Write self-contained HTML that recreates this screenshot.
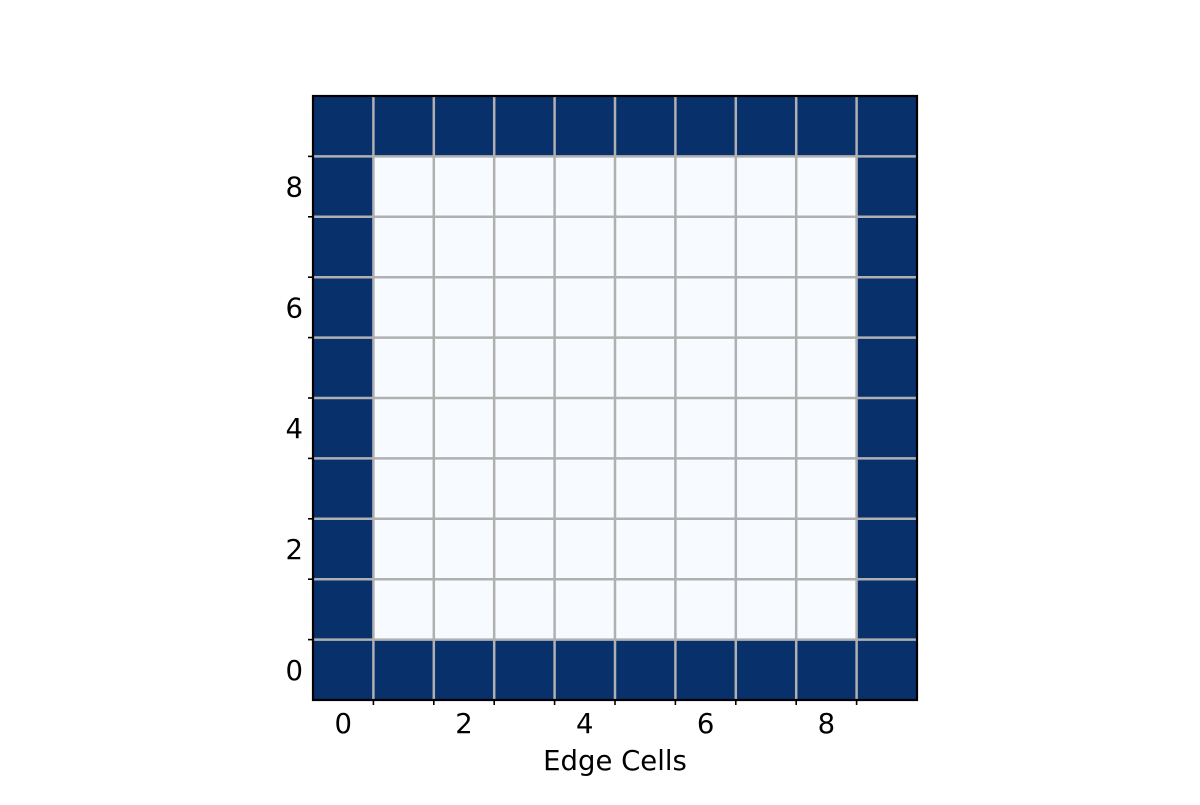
<!DOCTYPE html>
<html><head><meta charset="utf-8"><style>
body{margin:0;background:#fff;}
svg text{font-family:"DejaVu Sans","Liberation Sans",sans-serif;font-size:27.5px;fill:#000;}
</style></head><body>
<svg id="chart" width="1200" height="800" xmlns="http://www.w3.org/2000/svg"></svg>
<script>
const gridValues = [
[1,1,1,1,1,1,1,1,1,1],
[1,0,0,0,0,0,0,0,0,1],
[1,0,0,0,0,0,0,0,0,1],
[1,0,0,0,0,0,0,0,0,1],
[1,0,0,0,0,0,0,0,0,1],
[1,0,0,0,0,0,0,0,0,1],
[1,0,0,0,0,0,0,0,0,1],
[1,0,0,0,0,0,0,0,0,1],
[1,0,0,0,0,0,0,0,0,1],
[1,1,1,1,1,1,1,1,1,1]];
const xTickLabels = [0,2,4,6,8];
const yTickLabels = [0,2,4,6,8];
const xLabel = "Edge Cells";

const svg = document.getElementById('chart');
const NS = 'http://www.w3.org/2000/svg';
const L=313,T=96,W=604,H=604,n=10,cs=W/n;
const xs = v => L + (v+0.5)*cs;
const ys = v => T + H - (v+0.5)*cs;
function mk(tag, attrs){const e=document.createElementNS(NS,tag);for(const k in attrs)e.setAttribute(k,attrs[k]);svg.appendChild(e);return e;}
const colors=['#f7fbff','#08306b'];
gridValues.forEach((row,r)=>row.forEach((v,c)=>{
  const e=mk('rect',{x:xs(c)-cs/2,y:ys(r)-cs/2,width:cs+0.5,height:cs+0.5,fill:colors[v]});
  
  
}));
for(let i=0;i<n-1;i++){
  const b=i+0.5;
  const gx=mk('line',{x1:xs(b),x2:xs(b),y1:T,y2:T+H,stroke:'#b0b0b0','stroke-width':2.5});
  
  
  const gy=mk('line',{x1:L,x2:L+W,y1:ys(b),y2:ys(b),stroke:'#b0b0b0','stroke-width':2.5});
  
  
  const tx=mk('line',{x1:xs(b),x2:xs(b),y1:T+H,y2:T+H+5,stroke:'#000','stroke-width':1.6});
  
  
  const ty=mk('line',{x1:L-5,x2:L,y1:ys(b),y2:ys(b),stroke:'#000','stroke-width':1.6});
  
  
}
const fr=mk('rect',{x:L,y:T,width:W,height:H,fill:'none',stroke:'#000','stroke-width':2.2});


xTickLabels.forEach(v=>{
  const t=mk('text',{x:xs(v),y:733,'text-anchor':'middle'});t.textContent=v;
  
  
});
yTickLabels.forEach(v=>{
  const t=mk('text',{x:303,y:ys(v)+10,'text-anchor':'end'});t.textContent=v;
  
  
});
const xl=mk('text',{x:L+W/2,y:770,'text-anchor':'middle'});xl.textContent=xLabel;


</script>
</body></html>
